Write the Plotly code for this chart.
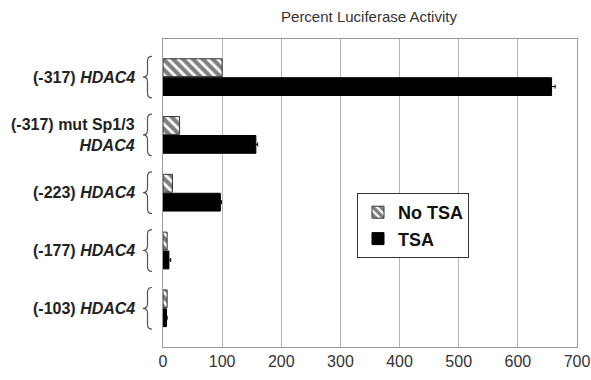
import plotly.graph_objects as go

constructs = ["(-317) <i>HDAC4</i>", "(-317) mut Sp1/3<br><i>HDAC4</i>", "(-223) <i>HDAC4</i>",
              "(-177) <i>HDAC4</i>", "(-103) <i>HDAC4</i>"]
no_tsa = [100, 28, 16, 7, 7]
tsa = [657, 157, 97, 10, 6]
tsa_err = [6, 3, 2, 3, 1]
x_ticks = [0, 100, 200, 300, 400, 500, 600, 700]

W, H = 591, 380
ML, MR, MT, MB = 163, 14, 39, 33
pw = W - ML - MR
ph = H - MT - MB

ypos = list(range(len(constructs)))
font = "Liberation Sans, Arial, sans-serif"

fig = go.Figure()
fig.add_trace(go.Bar(
    name="<b>No TSA</b>", y=ypos, x=no_tsa, orientation="h",
    marker=dict(color="white", line=dict(color="#333", width=1),
                pattern=dict(shape="\\", fgcolor="black", bgcolor="white", size=7, solidity=0.6)),
))
fig.add_trace(go.Bar(
    name="<b>TSA</b>", y=ypos, x=tsa, orientation="h",
    marker=dict(color="black", line=dict(color="black", width=1)),
    error_x=dict(type="data", array=tsa_err, color="black", thickness=1, width=2),
))

annotations = []
shapes = []
lab_x = (137 - ML) / pw
for i, lab in enumerate(constructs):
    annotations.append(dict(x=lab_x, y=i, xref="paper", yref="y", text="<b>" + lab + "</b>",
                            showarrow=False, xanchor="right", yanchor="middle", align="right",
                            font=dict(family=font, size=16, color="#222")))
    xr = (152 - ML) / pw
    xl = (143 - ML) / pw
    xm = (147.5 - ML) / pw
    yt, yb = i - 0.36, i + 0.36
    r = 0.08
    path = (f"M{xr},{yt} Q{xm},{yt} {xm},{yt + r} L{xm},{i - r} Q{xm},{i} {xl},{i} "
            f"Q{xm},{i} {xm},{i + r} L{xm},{yb - r} Q{xm},{yb} {xr},{yb}")
    shapes.append(dict(type="path", path=path, xref="paper", yref="y",
                       line=dict(color="#555", width=1.2)))

fig.update_layout(
    width=W, height=H,
    margin=dict(l=ML, r=MR, t=MT, b=MB, autoexpand=False),
    paper_bgcolor="white", plot_bgcolor="white",
    barmode="group", bargap=0.345, bargroupgap=0.06,
    title=dict(text="Percent Luciferase Activity", x=369 / W, xanchor="center",
               y=1 - 17 / H, yanchor="middle", font=dict(family=font, size=15, color="#333")),
    xaxis=dict(range=[0, 700], tickvals=x_ticks, showgrid=True, gridcolor="#b5b5b5", gridwidth=1,
               showline=True, linecolor="#999", linewidth=1, mirror=True, zeroline=False,
               automargin=False,
               tickfont=dict(family=font, size=16, color="#333"), ticks="", ticklen=0),
    yaxis=dict(range=[4.67, -0.66], showticklabels=False, showgrid=False, zeroline=False,
               automargin=False,
               showline=True, linecolor="#999", linewidth=1, mirror=True, ticks=""),
    legend=dict(x=(357 - ML) / pw, y=(H - MB - 193) / ph, xanchor="left", yanchor="top",
                bordercolor="#333", borderwidth=1, bgcolor="white",
                font=dict(family=font, size=18, color="#111")),
    annotations=annotations, shapes=shapes,
    showlegend=True,
)

fig.write_html("out.html", config={"displayModeBar": False},
               post_script="document.body.style.margin='0';document.body.style.overflow='hidden';")
